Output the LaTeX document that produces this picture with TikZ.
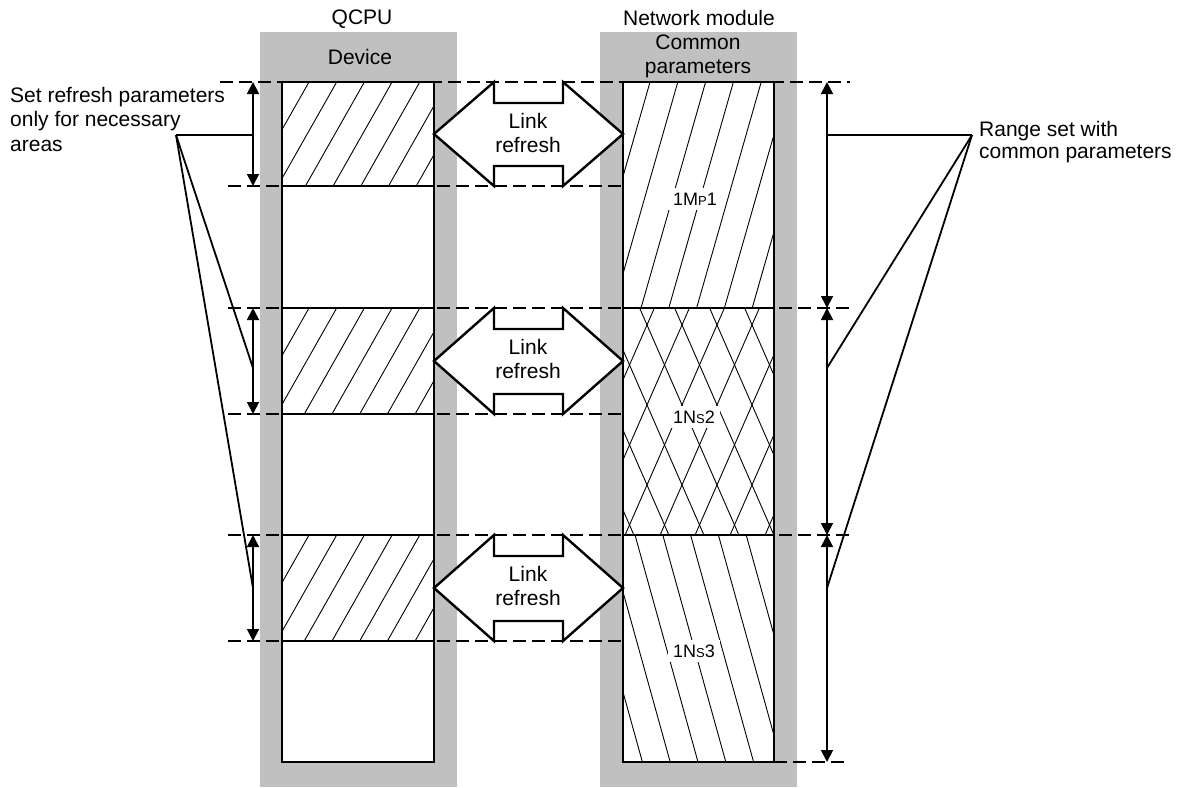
\documentclass[tikz,border=0pt]{standalone}
\usepackage{fontspec}
\setmainfont{Liberation Sans}
\usetikzlibrary{arrows.meta}
\definecolor{bandgray}{RGB}{192,192,192}
\begin{document}
\begin{tikzpicture}[x=1pt,y=-1pt,
  boxline/.style={line width=2.4pt},
  dashline/.style={line width=2.4pt,dash pattern=on 13pt off 6pt},
  hatch/.style={line width=0.9pt},
  dimarrow/.style={line width=1.8pt,{Triangle[length=12pt,width=12pt]}-{Triangle[length=12pt,width=12pt]}},
  leader/.style={line width=1.8pt},
  lbl/.style={font=\fontsize{21pt}{24pt}\selectfont, inner sep=0pt},
  reg/.style={fill=white,inner sep=5pt,anchor=west,font=\fontsize{18pt}{21pt}\selectfont},
  linkarrow/.style={line width=2.4pt, fill=white, line join=miter}
]
\useasboundingbox (0,0) rectangle (1185,787);
% grey bands
\fill[bandgray] (260,32) rectangle (457,787);
\fill[bandgray] (600,32) rectangle (797,787);
% dashed guide lines
\draw[dashline] (220,82) -- (850,82);
\draw[dashline] (228,186) -- (623,186);
\draw[dashline] (228,308) -- (850,308);
\draw[dashline] (228,414) -- (623,414);
\draw[dashline] (228,535) -- (850,535);
\draw[dashline] (228,641) -- (623,641);
\draw[dashline] (774,762) -- (850,762);
% left box (device)
\fill[white] (282,82) rectangle (434,762);
\foreach \t/\b in {82/186,308/414,535/641}{
  \begin{scope}
    \clip (282,\t) rectangle (434,\b);
    \foreach \k in {-2,...,7}
      \draw[hatch] ({309+27.7*\k},\t) -- ({309+27.7*\k-0.567*(\b-\t)},\b);
  \end{scope}
}
\draw[boxline] (282,82) rectangle (434,762);
\foreach \y in {186,308,414,535,641}
  \draw[boxline] (282,\y) -- (434,\y);
% right box (common parameters)
\fill[white] (623,82) rectangle (774,762);
\begin{scope}
  \clip (623,82) rectangle (774,308);
  \foreach \k in {-1,...,7}
    \draw[hatch] ({650+27.8*\k},82) -- ({650+27.8*\k-64.6},308);
\end{scope}
\begin{scope}
  \clip (623,308) rectangle (774,535);
  \foreach \k in {-1,...,7}
    \draw[hatch] ({647+35*\k+7.4},308) -- ({647+35*\k-91.9},535);
  \foreach \k in {-4,...,4}
    \draw[hatch] ({647+35*\k-7.4},308) -- ({647+35*\k+91.9},535);
\end{scope}
\begin{scope}
  \clip (623,535) rectangle (774,762);
  \foreach \k in {-3,...,5}
    \draw[hatch] ({635+27.8*\k},535) -- ({635+27.8*\k+63},762);
\end{scope}
\draw[boxline] (623,82) rectangle (774,762);
\draw[boxline] (623,308) -- (774,308);
\draw[boxline] (623,535) -- (774,535);
% region labels
\node[reg] (mp1) at (668,199) {1M{\fontsize{13pt}{13pt}\selectfont P}1};
\node[reg] (ns2) at (668,417) {1N{\fontsize{13pt}{13pt}\selectfont S}2};
\node[reg] (ns3) at (668,651) {1N{\fontsize{13pt}{13pt}\selectfont S}3};
% link refresh arrows
\foreach \t/\b/\n in {82/186/1,308/414/2,535/641/3}{
  \pgfmathsetmacro{\m}{(\t+\b)/2}
  \draw[linkarrow] (434,\m) -- (494,\t) -- (494,\t+21) -- (563,\t+21) -- (563,\t)
    -- (623,\m) -- (563,\b) -- (563,\b-20) -- (494,\b-20) -- (494,\b) -- cycle;
  \node[lbl,align=center,anchor=north] (link\n) at (528,\t+31) {Link\\refresh};
}
% dimension arrows
\coordinate (L1t) at (253,82);  \coordinate (L1b) at (253,186);
\coordinate (L2t) at (253,308); \coordinate (L2b) at (253,414);
\coordinate (L3t) at (253,535); \coordinate (L3b) at (253,641);
\draw[dimarrow] (L1t) -- (L1b);
\draw[dimarrow] (L2t) -- (L2b);
\draw[dimarrow] (L3t) -- (L3b);
\coordinate (R1t) at (827,82);  \coordinate (R1b) at (827,308);
\coordinate (R2b) at (827,535); \coordinate (R3b) at (827,762);
\draw[dimarrow] (R1t) -- (R1b);
\draw[dimarrow] (R1b) -- (R2b);
\draw[dimarrow] (R2b) -- (R3b);
% leader lines
\coordinate (Lsrc) at (176,135);
\coordinate (La) at (253,135);
\coordinate (Lb) at (253,368);
\coordinate (Lc) at (253,588);
\draw[leader] (Lsrc) -- (La);
\draw[leader] (Lsrc) -- (Lb);
\draw[leader] (Lsrc) -- (Lc);
\coordinate (Rsrc) at (972,135);
\coordinate (Ra) at (827,135);
\coordinate (Rb) at (827,368);
\coordinate (Rc) at (827,588);
\draw[leader] (Rsrc) -- (Ra);
\draw[leader] (Rsrc) -- (Rb);
\draw[leader] (Rsrc) -- (Rc);
% texts
\node[lbl,anchor=base] (qcpu) at (362,24) {QCPU};
\node[lbl,anchor=base] (dev) at (360,64) {Device};
\node[lbl,anchor=base] (nm) at (699,25) {Network module};
\node[lbl,align=center,anchor=north] (cp) at (698,35) {Common\\parameters};
\node[lbl,align=left,anchor=north west,font=\fontsize{21pt}{24.5pt}\selectfont] (setref) at (10,87) {Set refresh parameters\\only for necessary\\areas};
\node[lbl,align=left,anchor=north west,font=\fontsize{21pt}{22pt}\selectfont] (range) at (979,121) {Range set with\\common parameters};
\end{tikzpicture}
\end{document}
